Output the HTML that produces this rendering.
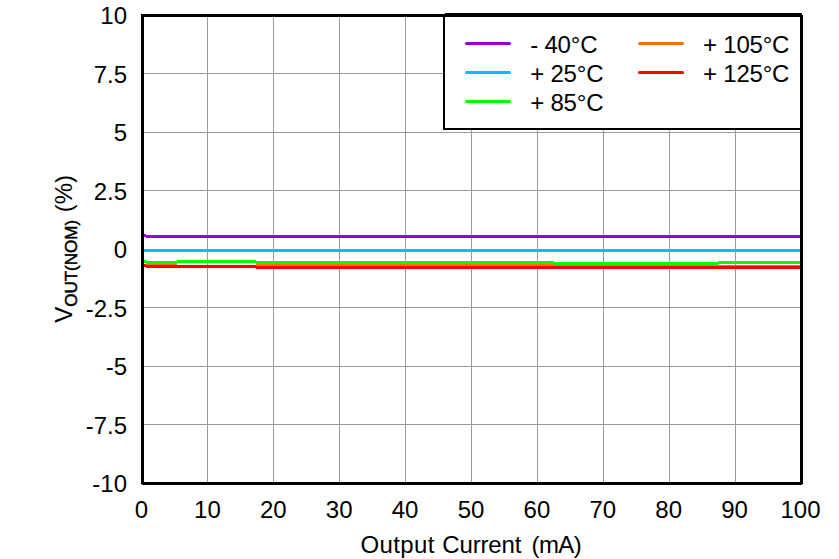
<!DOCTYPE html>
<html><head><meta charset="utf-8"><title>VOUT(NOM) vs Output Current</title>
<style>
html,body{margin:0;padding:0;background:#fff;}
body{width:839px;height:559px;overflow:hidden;}
svg{display:block;}
text{font-family:"Liberation Sans",sans-serif;font-size:24px;fill:#000;}
</style></head><body>
<svg width="839" height="559" viewBox="0 0 839 559">
<rect x="0" y="0" width="839" height="559" fill="#fff"/>
<g fill="#9a9a9a" shape-rendering="crispEdges">
<rect x="207" y="17" width="1" height="465"/>
<rect x="273" y="17" width="1" height="465"/>
<rect x="339" y="17" width="1" height="465"/>
<rect x="405" y="17" width="1" height="465"/>
<rect x="471" y="17" width="1" height="465"/>
<rect x="537" y="17" width="1" height="465"/>
<rect x="603" y="17" width="1" height="465"/>
<rect x="669" y="17" width="1" height="465"/>
<rect x="735" y="17" width="1" height="465"/>
<rect x="144" y="73" width="656" height="1"/>
<rect x="144" y="132" width="656" height="1"/>
<rect x="144" y="190" width="656" height="1"/>
<rect x="144" y="249" width="656" height="1"/>
<rect x="144" y="307" width="656" height="1"/>
<rect x="144" y="366" width="656" height="1"/>
<rect x="144" y="424" width="656" height="1"/>
</g>
<g shape-rendering="crispEdges">
<rect x="144" y="234" width="2" height="3" fill="#9400d3"/>
<rect x="146" y="235" width="654" height="3" fill="#9400d3"/>
<rect x="144" y="249" width="656" height="3" fill="#00bfff"/>
<rect x="144" y="264" width="33" height="3" fill="#ee7600"/>
<rect x="177" y="265" width="79" height="3" fill="#ee7600"/>
<rect x="256" y="264" width="298" height="3" fill="#ee7600"/>
<rect x="554" y="265" width="246" height="3" fill="#ee7600"/>
<rect x="144" y="260" width="2" height="3" fill="#00ff00"/>
<rect x="146" y="261" width="31" height="3" fill="#00ff00"/>
<rect x="177" y="260" width="79" height="3" fill="#00ff00"/>
<rect x="256" y="261" width="298" height="3" fill="#00ff00"/>
<rect x="554" y="262" width="164" height="3" fill="#00ff00"/>
<rect x="718" y="261" width="82" height="3" fill="#00ff00"/>
<rect x="144" y="264" width="2" height="3" fill="#ff0000"/>
<rect x="146" y="265" width="110" height="3" fill="#ff0000"/>
<rect x="256" y="266" width="544" height="3" fill="#ff0000"/>
</g>
<rect x="142.5" y="15.5" width="659.0" height="468.0" fill="none" stroke="#000" stroke-width="3"/>
<rect x="444" y="14" width="357" height="115" fill="#fff"/>
<path d="M445 14H801.7M444 15V130M443 129H801" fill="none" stroke="#000" stroke-width="2"/>
<line x1="142.5" y1="15.5" x2="801.5" y2="15.5" stroke="#000" stroke-width="3"/>
<line x1="801.5" y1="14" x2="801.5" y2="131" stroke="#000" stroke-width="3"/>
<path d="M141 484h1v1h-1zM802 484h1v1h-1zM802 14h1v1h-1z" fill="#fff" shape-rendering="crispEdges"/>
<g stroke-width="3" stroke-linecap="round">
<line x1="466.5" y1="43.5" x2="509.5" y2="43.5" stroke="#9400d3"/>
<line x1="466.5" y1="72.5" x2="509.5" y2="72.5" stroke="#00bfff"/>
<line x1="466.5" y1="101.5" x2="509.5" y2="101.5" stroke="#00ff00"/>
<line x1="639.5" y1="43.5" x2="682.5" y2="43.5" stroke="#ee7600"/>
<line x1="639.5" y1="72.5" x2="682.5" y2="72.5" stroke="#ff0000"/>
</g>
<text x="530.2" y="53" letter-spacing="-0.2">- 40°C</text>
<text x="530.2" y="82" letter-spacing="-0.2">+ 25°C</text>
<text x="530.2" y="111" letter-spacing="-0.2">+ 85°C</text>
<text x="703" y="53" letter-spacing="-0.2">+ 105°C</text>
<text x="703" y="82" letter-spacing="-0.2">+ 125°C</text>
<text x="127" y="24.0" text-anchor="end">10</text>
<text x="127" y="82.5" text-anchor="end">7.5</text>
<text x="127" y="141.0" text-anchor="end">5</text>
<text x="127" y="199.5" text-anchor="end">2.5</text>
<text x="127" y="258.0" text-anchor="end">0</text>
<text x="127" y="316.5" text-anchor="end">-2.5</text>
<text x="127" y="375.0" text-anchor="end">-5</text>
<text x="127" y="433.5" text-anchor="end">-7.5</text>
<text x="127" y="492.0" text-anchor="end">-10</text>
<text x="141.5" y="518" text-anchor="middle">0</text>
<text x="207.4" y="518" text-anchor="middle">10</text>
<text x="273.3" y="518" text-anchor="middle">20</text>
<text x="339.2" y="518" text-anchor="middle">30</text>
<text x="405.1" y="518" text-anchor="middle">40</text>
<text x="471.0" y="518" text-anchor="middle">50</text>
<text x="536.9" y="518" text-anchor="middle">60</text>
<text x="602.8" y="518" text-anchor="middle">70</text>
<text x="668.7" y="518" text-anchor="middle">80</text>
<text x="734.6" y="518" text-anchor="middle">90</text>
<text x="800.5" y="518" text-anchor="middle">100</text>
<text x="360.5" y="552.5" letter-spacing="0.36">Output</text>
<text x="442.3" y="552.5" letter-spacing="-0.17">Current</text>
<text x="531.5" y="552.5" letter-spacing="-0.6">(mA)</text>
<text transform="translate(72,248.9) rotate(-90)" text-anchor="middle">V<tspan font-size="17px" dy="5.3" stroke="#000" stroke-width="0.5">OUT(NOM)</tspan><tspan dy="-5.3" dx="1"> (%)</tspan></text>
</svg></body></html>
